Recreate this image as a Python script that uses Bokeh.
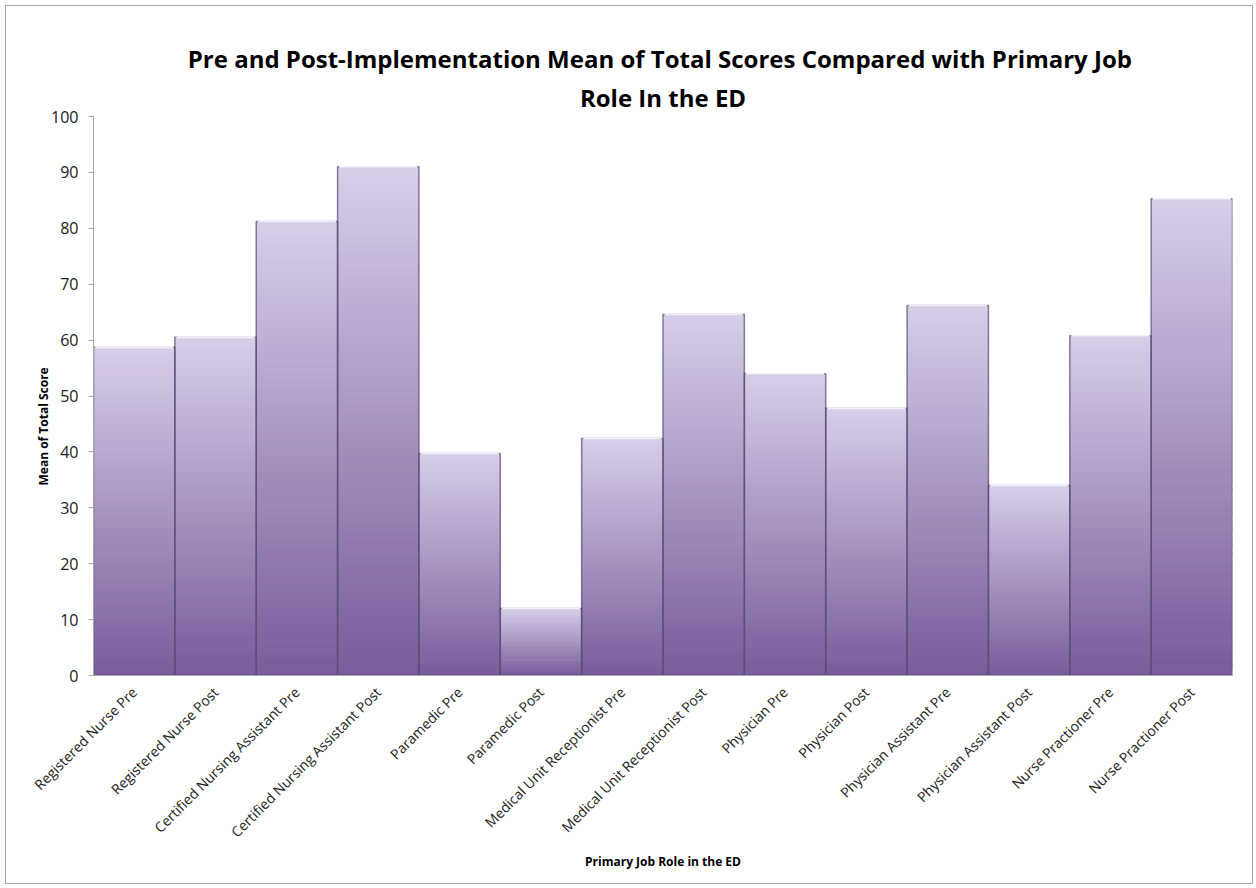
from math import pi
from bokeh.plotting import figure
from bokeh.layouts import column
from bokeh.models import ColumnDataSource, Title, FixedTicker, FactorRange, Range1d
from bokeh.embed import file_html
from bokeh.resources import INLINE

categories = [
    "Registered Nurse Pre", "Registered Nurse Post",
    "Certified Nursing Assistant Pre", "Certified Nursing Assistant Post",
    "Paramedic Pre", "Paramedic Post",
    "Medical Unit Receptionist Pre", "Medical Unit Receptionist Post",
    "Physician Pre", "Physician Post",
    "Physician Assistant Pre", "Physician Assistant Post",
    "Nurse Practioner Pre", "Nurse Practioner Post",
]
mean_scores = [58.7, 60.5, 81.2, 91.0, 39.7, 12.0, 42.4, 64.6, 54.0, 47.8, 66.2, 34.0, 60.8, 85.3]
y_ticks = list(range(0, 101, 10))
title_line1 = "Pre and Post-Implementation Mean of Total Scores  Compared with Primary Job"
title_line2 = "Role In the ED"
x_title = "Primary Job Role in the ED"
y_title = "Mean of Total Score"

FONT = "Open Sans"

# gradient fill: each bar is split into thin slices shaded from dark (bottom) to light (top)
N = 60
bottom_rgb = (120, 92, 155)
top_rgb = (215, 206, 232)
xs, bots, tops, cols = [], [], [], []
for c, v in zip(categories, mean_scores):
    for i in range(N):
        t = (i + 0.5) / N
        rgb = tuple(int(round(b + (u - b) * t)) for b, u in zip(bottom_rgb, top_rgb))
        xs.append(c)
        bots.append(v * i / N)
        tops.append(min(v, v * (i + 1.6) / N))
        cols.append("#%02x%02x%02x" % rgb)
grad = ColumnDataSource(dict(x=xs, bottom=bots, top=tops, color=cols))
bars = ColumnDataSource(dict(x=categories, top=mean_scores))

OFF = 6  # plot sits inside a 1px grey frame placed 5px from the page edge

p = figure(
    width=1246, height=877,
    x_range=FactorRange(*categories), y_range=Range1d(0, 100),
    output_backend="svg", toolbar_location=None,
    min_border_left=93 - OFF, min_border_right=20, min_border_top=116 - OFF,
    min_border_bottom=883 - 675,
)
p.outline_line_color = None
p.background_fill_color = "white"
p.border_fill_color = "white"
p.xgrid.visible = False
p.ygrid.visible = False

p.vbar(x="x", bottom="bottom", top="top", width=1.0, source=grad,
       fill_color="color", line_color=None)
# bar edges
p.vbar(x="x", top="top", width=1.0, source=bars, fill_color=None,
       line_color="#5a4874", line_alpha=0.7, line_width=1.5)
# top highlight
p.vbar(x="x", top="top", bottom="top", width=0.96, source=bars, fill_color=None,
       line_color="#f5f1fb", line_width=2)

p.add_layout(Title(text=title_line2, align="center", text_font=FONT, text_font_size="24px",
                   text_font_style="bold", text_color="#000000", standoff=5), "above")
p.add_layout(Title(text=title_line1, align="center", text_font=FONT, text_font_size="24px",
                   text_font_style="bold", text_color="#000000", standoff=3), "above")

ya = p.yaxis[0]
ya.ticker = FixedTicker(ticks=y_ticks)
ya.axis_line_color = "#a6a6a6"
ya.major_tick_line_color = "#a6a6a6"
ya.major_tick_out = 5
ya.major_tick_in = 0
ya.minor_tick_line_color = None
ya.major_label_text_font = FONT
ya.major_label_text_font_size = "16px"
ya.major_label_text_color = "#222222"
ya.major_label_standoff = 10

# y axis title, placed in the left panel next to the axis
p.add_layout(Title(text=y_title, align="left", offset=190, text_font=FONT,
                   text_font_size="12px", text_font_style="bold", text_color="#000000",
                   standoff=-7), "left")

xa = p.xaxis[0]
xa.axis_line_color = "#a6a6a6"
xa.major_tick_line_color = None
xa.minor_tick_line_color = None
xa.major_label_orientation = pi / 4
xa.major_label_text_font = FONT
xa.major_label_text_font_size = "14px"
xa.major_label_text_color = "#222222"
xa.major_label_standoff = 8
xa.axis_label = x_title
xa.axis_label_text_font = FONT
xa.axis_label_text_font_size = "12px"
xa.axis_label_text_font_style = "bold"
xa.axis_label_text_color = "#000000"
xa.axis_label_standoff = 2

layout = column(p, margin=(5, 5, 5, 5), styles={"border": "1px solid #a6a6a6"})

open("out.html", "w").write(file_html(layout, INLINE))
